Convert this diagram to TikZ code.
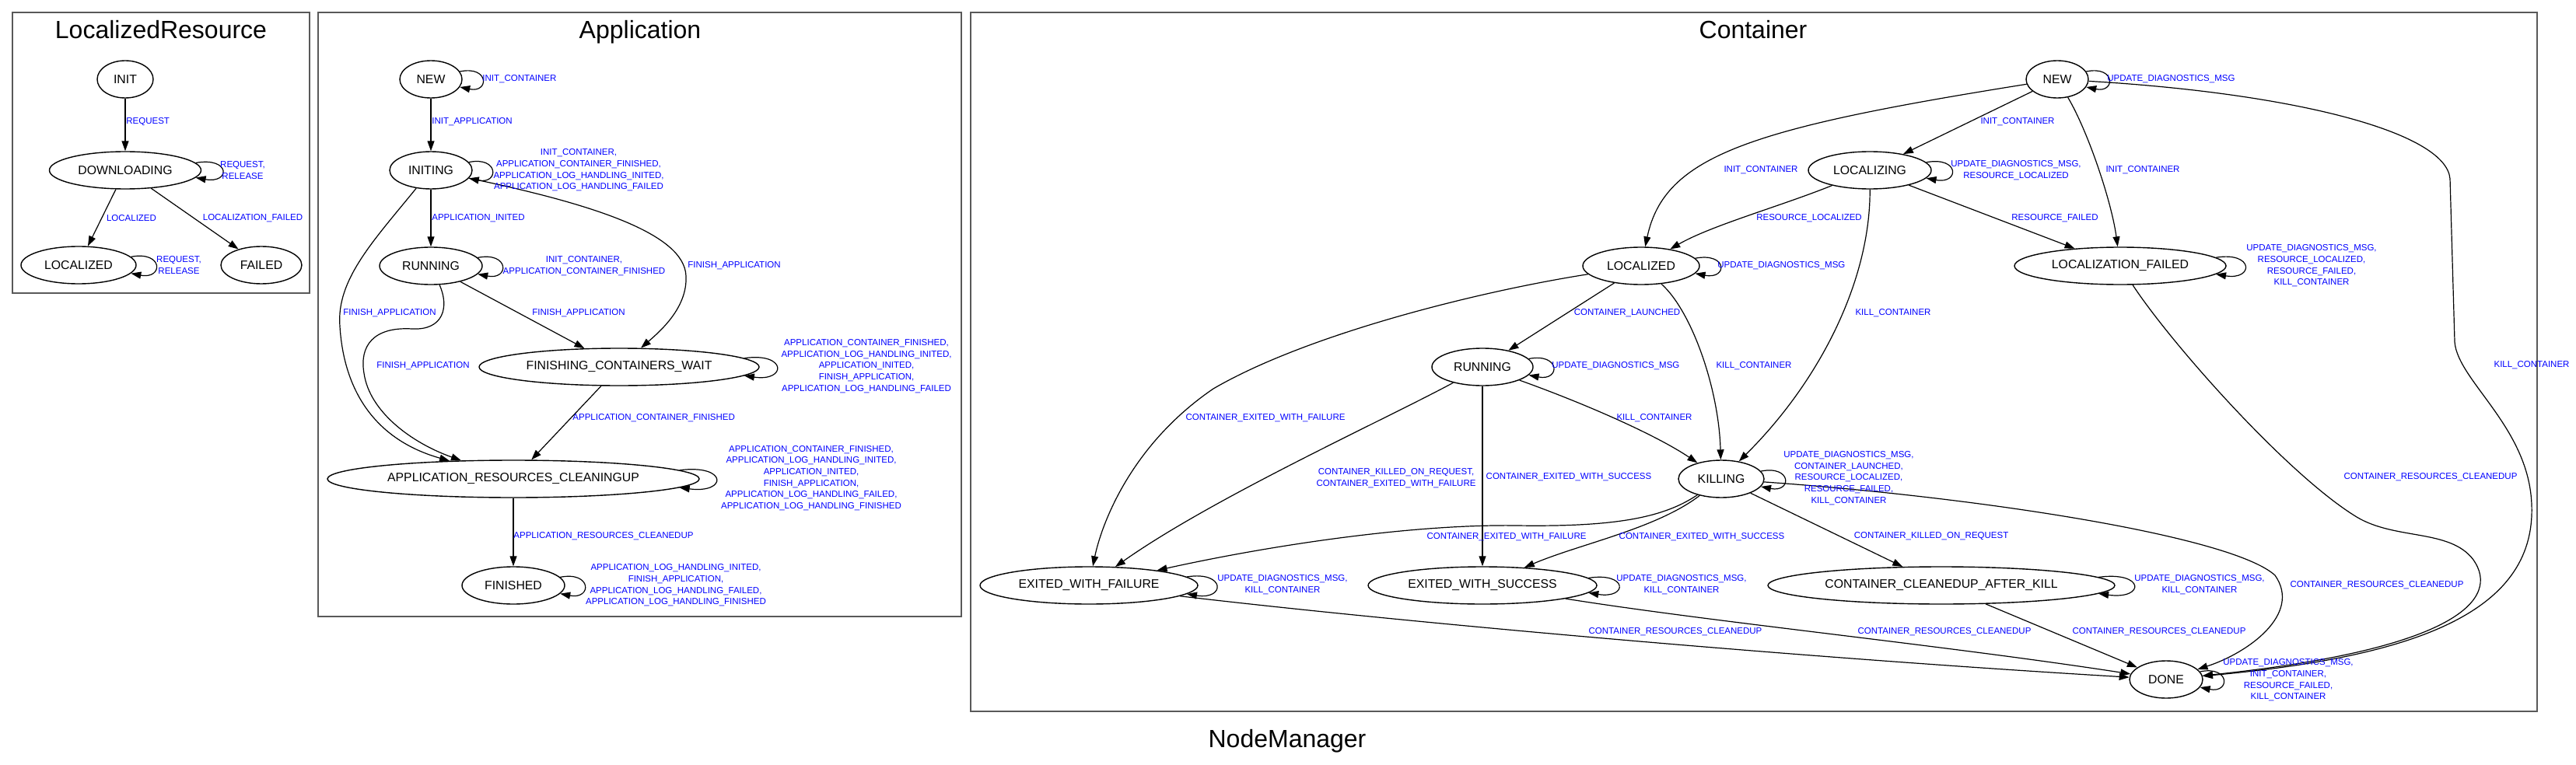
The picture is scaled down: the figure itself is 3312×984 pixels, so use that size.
\documentclass[tikz,border=0pt]{standalone}
\usepackage{fontspec}
\setmainfont{Liberation Sans}
\usepackage{tikz}
\usetikzlibrary{arrows.meta, shapes.geometric}
\tikzset{
  st/.style={ellipse, draw, line width=0.7pt, inner sep=0pt, minimum height=24pt,
    font=\fontsize{7.9}{9.5}\selectfont},
  ev/.style={text=blue, inner sep=0pt, align=center, font=\fontsize{5.75}{7.35}\selectfont},
  tr/.style={-{Triangle[length=6.5pt, width=4.5pt]}, line width=0.6pt},
  cluster/.style={draw=black!65, line width=1.2pt},
  ttl/.style={inner sep=0pt, anchor=base, font=\fontsize{16}{19}\selectfont},
}

\begin{document}
\begin{tikzpicture}[x=0.5pt, y=-0.5pt]
  \useasboundingbox (0,0) rectangle (3312,984);
  \draw[cluster] (16,16) rectangle (398,377);
  \draw[cluster] (409,16) rectangle (1236,793);
  \draw[cluster] (1248,16) rectangle (3262,915);
  \node[ttl] (t-lr) at (207,50) {LocalizedResource};
  \node[ttl] (t-app) at (823,50) {Application};
  \node[ttl] (t-cont) at (2254,50) {Container};
  \node[ttl] (t-nm) at (1655,961) {NodeManager};
  % estados: nome/x/y/semi-eixo/texto (coordenadas em pixels, y para baixo)
  \foreach \nm/\xx/\yy/\elw/\txt in {
    lr-init/161/102/36/INIT, lr-dl/161/219/97.5/DOWNLOADING,
    lr-ld/101/341/74/LOCALIZED, lr-failed/336/341/52/FAILED,
    a-new/554/102/40/NEW, a-initing/554/219/53/INITING,
    a-running/554/342/66/RUNNING, a-fcw/796/472/180/FINISHING\_CONTAINERS\_WAIT,
    a-arc/660/616/239/APPLICATION\_RESOURCES\_CLEANINGUP, a-finished/660/753/66/FINISHED,
    c-new/2645/102/40/NEW, c-localizing/2404/219/79/LOCALIZING,
    c-localized/2110/342/75/LOCALIZED, c-lf/2726/342/136/LOCALIZATION\_FAILED,
    c-running/1906/472/65/RUNNING, c-killing/2213/616/55/KILLING,
    c-ewf/1400/753/140/EXITED\_WITH\_FAILURE, c-ews/1906/753/147/EXITED\_WITH\_SUCCESS,
    c-ccak/2496/753/223/CONTAINER\_CLEANEDUP\_AFTER\_KILL, c-done/2785/874/47/DONE}
    \node[st, minimum width=\elw*1pt] (\nm) at (\xx,\yy) {\txt};
  % lacos: no/angulo/alcance
  \foreach \nd/\ang/\ext in {lr-dl/6/45, lr-ld/9/42, a-new/15/38, a-initing/12/39,
    a-running/10/41, a-fcw/4/55, a-arc/3/62, a-finished/10/41, c-new/15/38,
    c-localizing/8/43, c-lf/5/49, c-localized/8/42, c-running/10/41, c-killing/11/40,
    c-ewf/5/50, c-ews/4/51, c-ccak/3/60, c-done/13/39}
    \draw[tr] (\nd.\ang) .. controls +(\ext,-8) and +(\ext,8) .. (\nd.-\ang);

  \draw[tr] (lr-init) -- (lr-dl);
  \draw[tr] (lr-dl) -- (lr-ld);
  \draw[tr] (lr-dl) -- (lr-failed);
  \node[ev, anchor=west] (l-req) at (162,157) {REQUEST};
  \node[ev] (l-dlloop) at (312,219) {REQUEST,\\RELEASE};
  \node[ev] (l-loc) at (169,281) {LOCALIZED};
  \node[ev] (l-locf) at (325,281) {LOCALIZATION\_FAILED};
  \node[ev] (l-ldloop) at (230,341) {REQUEST,\\RELEASE};

  \draw[tr] (a-new) -- (a-initing);
  \draw[tr] (a-initing) -- (a-running);
  \draw[tr] (a-initing) .. controls (760,262) and (880,300) .. (882,355)
    .. controls (884,395) and (850,425) .. (a-fcw);
  \draw[tr] (a-running) -- (a-fcw);
  \draw[tr] (a-initing) .. controls (480,310) and (432,360) .. (437,420)
    .. controls (442,500) and (480,565) .. (a-arc);
  \draw[tr] (a-running) .. controls (578,395) and (570,425) .. (530,423)
    .. controls (480,420) and (462,445) .. (468,480)
    .. controls (475,530) and (530,570) .. (a-arc);
  \draw[tr] (a-fcw) -- (a-arc);
  \draw[tr] (a-arc) -- (a-finished);
  \node[ev, anchor=west] (l-a1) at (620,102) {INIT\_CONTAINER};
  \node[ev, anchor=west] (l-a2) at (555,157) {INIT\_APPLICATION};
  \node[ev] (l-a3) at (744,219) {INIT\_CONTAINER,\\APPLICATION\_CONTAINER\_FINISHED,\\APPLICATION\_LOG\_HANDLING\_INITED,\\APPLICATION\_LOG\_HANDLING\_FAILED};
  \node[ev, anchor=west] (l-a4) at (555,281) {APPLICATION\_INITED};
  \node[ev] (l-a5) at (751,342) {INIT\_CONTAINER,\\APPLICATION\_CONTAINER\_FINISHED};
  \node[ev, anchor=west] (l-a6) at (884,342) {FINISH\_APPLICATION};
  \node[ev] (l-a7) at (501,403) {FINISH\_APPLICATION};
  \node[ev] (l-a8) at (744,403) {FINISH\_APPLICATION};
  \node[ev] (l-a9) at (544,471) {FINISH\_APPLICATION};
  \node[ev] (l-a10) at (1114,471) {APPLICATION\_CONTAINER\_FINISHED,\\APPLICATION\_LOG\_HANDLING\_INITED,\\APPLICATION\_INITED,\\FINISH\_APPLICATION,\\APPLICATION\_LOG\_HANDLING\_FAILED};
  \node[ev, anchor=west] (l-a11) at (736,538) {APPLICATION\_CONTAINER\_FINISHED};
  \node[ev] (l-a12) at (1043,615) {APPLICATION\_CONTAINER\_FINISHED,\\APPLICATION\_LOG\_HANDLING\_INITED,\\APPLICATION\_INITED,\\FINISH\_APPLICATION,\\APPLICATION\_LOG\_HANDLING\_FAILED,\\APPLICATION\_LOG\_HANDLING\_FINISHED};
  \node[ev, anchor=west] (l-a13) at (660,690) {APPLICATION\_RESOURCES\_CLEANEDUP};
  \node[ev] (l-a14) at (869,753) {APPLICATION\_LOG\_HANDLING\_INITED,\\FINISH\_APPLICATION,\\APPLICATION\_LOG\_HANDLING\_FAILED,\\APPLICATION\_LOG\_HANDLING\_FINISHED};

  \draw[tr] (c-new) .. controls (2250,165) and (2140,200) .. (c-localized);
  \draw[tr] (c-new) -- (c-localizing);
  \draw[tr] (c-new) .. controls (2685,170) and (2715,260) .. (c-lf);
  \draw[tr] (c-new) .. controls (2950,120) and (3145,170) .. (3150,230) -- (3156,440)
    .. controls (3160,490) and (3252,550) .. (3255,650)
    .. controls (3260,790) and (3100,845) .. (c-done);
  \draw[tr] (c-localizing) .. controls (2290,265) and (2200,290) .. (c-localized);
  \draw[tr] (c-localizing) -- (c-lf);
  \draw[tr] (c-localizing) .. controls (2405,360) and (2340,490) .. (c-killing);
  \draw[tr] (c-lf) .. controls (2790,440) and (2940,610) .. (3030,665)
    .. controls (3080,695) and (3150,680) .. (3180,720)
    .. controls (3215,770) and (3160,835) .. (c-done);
  \draw[tr] (c-localized) -- (c-running);
  \draw[tr] (c-localized) .. controls (2175,400) and (2210,500) .. (c-killing);
  \draw[tr] (c-localized) .. controls (1900,375) and (1680,430) .. (1560,500)
    .. controls (1450,575) and (1415,680) .. (c-ewf);
  \draw[tr] (c-running) .. controls (2040,520) and (2130,560) .. (c-killing);
  \draw[tr] (c-running) .. controls (1780,540) and (1560,640) .. (c-ewf);
  \draw[tr] (c-running) -- (c-ews);
  \draw[tr] (c-killing) .. controls (2140,665) and (2080,678) .. (1950,676)
    .. controls (1820,674) and (1640,700) .. (c-ewf);
  \draw[tr] (c-killing) .. controls (2130,680) and (2030,700) .. (c-ews);
  \draw[tr] (c-killing) -- (c-ccak);
  \draw[tr] (c-killing) .. controls (2550,640) and (2870,690) .. (2925,740)
    .. controls (2960,790) and (2890,840) .. (c-done);
  \draw[tr] (c-ewf) .. controls (1800,800) and (2300,845) .. (c-done);
  \draw[tr] (c-ews) .. controls (2200,800) and (2500,830) .. (c-done);
  \draw[tr] (c-ccak) -- (c-done);
  \node[ev, anchor=west] (l-c1) at (2709,102) {UPDATE\_DIAGNOSTICS\_MSG};
  \node[ev] (l-c2) at (2594,157) {INIT\_CONTAINER};
  \node[ev] (l-c3) at (2755,219) {INIT\_CONTAINER};
  \node[ev] (l-c4) at (2264,219) {INIT\_CONTAINER};
  \node[ev] (l-c5) at (2592,219) {UPDATE\_DIAGNOSTICS\_MSG,\\RESOURCE\_LOCALIZED};
  \node[ev] (l-c6) at (2326,281) {RESOURCE\_LOCALIZED};
  \node[ev] (l-c7) at (2642,281) {RESOURCE\_FAILED};
  \node[ev] (l-c8) at (2972,342) {UPDATE\_DIAGNOSTICS\_MSG,\\RESOURCE\_LOCALIZED,\\RESOURCE\_FAILED,\\KILL\_CONTAINER};
  \node[ev, anchor=west] (l-c9) at (2208,342) {UPDATE\_DIAGNOSTICS\_MSG};
  \node[ev] (l-c10) at (2434,403) {KILL\_CONTAINER};
  \node[ev] (l-c11) at (2092,403) {CONTAINER\_LAUNCHED};
  \node[ev] (l-c12) at (2255,471) {KILL\_CONTAINER};
  \node[ev, anchor=west] (l-c13) at (1995,471) {UPDATE\_DIAGNOSTICS\_MSG};
  \node[ev] (l-c14) at (3255,470) {KILL\_CONTAINER};
  \node[ev] (l-c15) at (1627,538) {CONTAINER\_EXITED\_WITH\_FAILURE};
  \node[ev] (l-c16) at (2127,538) {KILL\_CONTAINER};
  \node[ev] (l-c17) at (1795,615) {CONTAINER\_KILLED\_ON\_REQUEST,\\CONTAINER\_EXITED\_WITH\_FAILURE};
  \node[ev] (l-c18) at (2017,614) {CONTAINER\_EXITED\_WITH\_SUCCESS};
  \node[ev] (l-c19) at (2377,615) {UPDATE\_DIAGNOSTICS\_MSG,\\CONTAINER\_LAUNCHED,\\RESOURCE\_LOCALIZED,\\RESOURCE\_FAILED,\\KILL\_CONTAINER};
  \node[ev] (l-c20) at (3125,614) {CONTAINER\_RESOURCES\_CLEANEDUP};
  \node[ev] (l-c21) at (1937,691) {CONTAINER\_EXITED\_WITH\_FAILURE};
  \node[ev] (l-c22) at (2188,691) {CONTAINER\_EXITED\_WITH\_SUCCESS};
  \node[ev] (l-c23) at (2483,690) {CONTAINER\_KILLED\_ON\_REQUEST};
  \node[ev] (l-c24) at (1649,752) {UPDATE\_DIAGNOSTICS\_MSG,\\KILL\_CONTAINER};
  \node[ev] (l-c25) at (2162,752) {UPDATE\_DIAGNOSTICS\_MSG,\\KILL\_CONTAINER};
  \node[ev] (l-c26) at (2828,752) {UPDATE\_DIAGNOSTICS\_MSG,\\KILL\_CONTAINER};
  \node[ev] (l-c27) at (3056,753) {CONTAINER\_RESOURCES\_CLEANEDUP};
  \node[ev] (l-c28) at (2154,813) {CONTAINER\_RESOURCES\_CLEANEDUP};
  \node[ev] (l-c29) at (2500,813) {CONTAINER\_RESOURCES\_CLEANEDUP};
  \node[ev] (l-c30) at (2776,813) {CONTAINER\_RESOURCES\_CLEANEDUP};
  \node[ev] (l-c31) at (2942,875) {UPDATE\_DIAGNOSTICS\_MSG,\\INIT\_CONTAINER,\\RESOURCE\_FAILED,\\KILL\_CONTAINER};
\end{tikzpicture}
\end{document}
